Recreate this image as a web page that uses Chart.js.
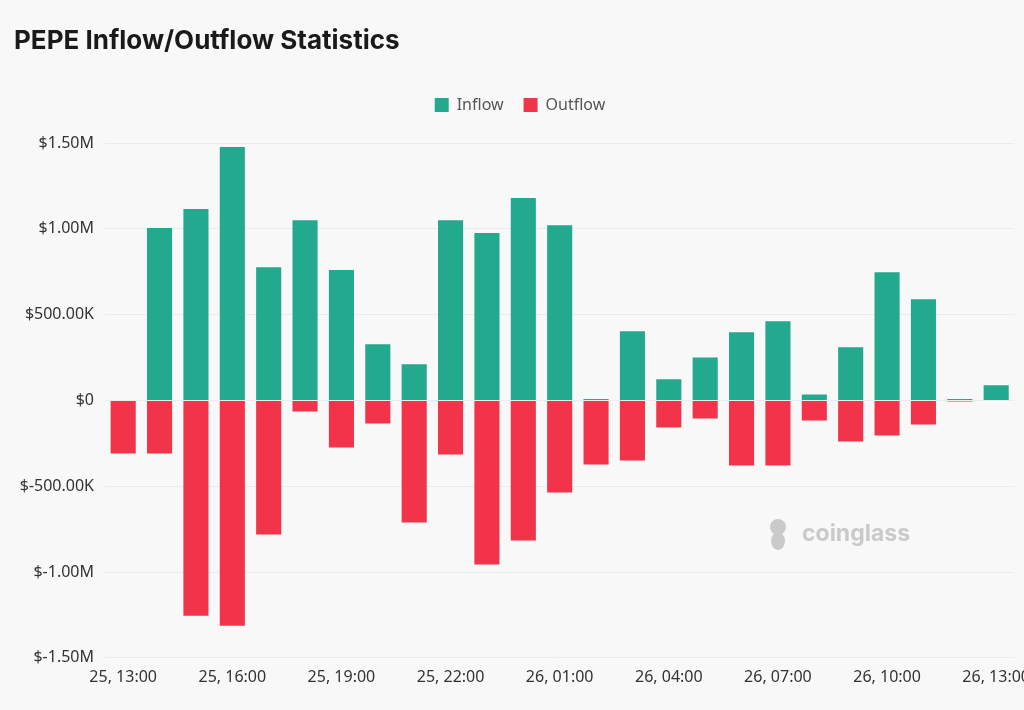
<!DOCTYPE html>
<html>
<head>
<meta charset="utf-8">
<script src="https://cdn.jsdelivr.net/npm/chart.js@4.4.1/dist/chart.umd.min.js"></script>
<style>
  html, body { margin: 0; padding: 0; background: #f8f8f8; width: 1024px; height: 710px; overflow: hidden; }
  #title { position: absolute; left: 14px; top: 24px; font-family: Inter, "Noto Sans", sans-serif; font-weight: 700; font-size: 26px; color: #1a1a1a; }
  #wrap { position: absolute; left: 0; top: 0; width: 1040px; height: 710px; }
</style>
</head>
<body>
<div id="wrap"><canvas id="c"></canvas></div>
<div id="title">PEPE Inflow/Outflow Statistics</div>
<script>
const categories = [
  "25, 13:00","25, 14:00","25, 15:00","25, 16:00","25, 17:00","25, 18:00","25, 19:00","25, 20:00","25, 21:00",
  "25, 22:00","25, 23:00","26, 00:00","26, 01:00","26, 02:00","26, 03:00","26, 04:00","26, 05:00","26, 06:00",
  "26, 07:00","26, 08:00","26, 09:00","26, 10:00","26, 11:00","26, 12:00","26, 13:00"
];
const inflow = [
  0, 1005000, 1115000, 1477000, 776000, 1050000, 760000, 327000, 210000,
  1050000, 975000, 1180000, 1020000, 8000, 403000, 123000, 250000, 397000,
  461000, 35000, 310000, 747000, 590000, 8000, 88000
];
const outflow = [
  -310000, -310000, -1255000, -1313000, -782000, -64000, -274000, -134000, -712000,
  -315000, -957000, -817000, -537000, -374000, -350000, -158000, -105000, -380000,
  -380000, -117000, -240000, -204000, -140000, -6000, 0
];
const yTicks = [-1500000, -1000000, -500000, 0, 500000, 1000000, 1500000];

function fmt(v) {
  if (v === 0) return "$0";
  const a = Math.abs(v), s = v < 0 ? "-" : "";
  if (a >= 1e6) return "$" + s + (a / 1e6).toFixed(2) + "M";
  return "$" + s + (a / 1e3).toFixed(2) + "K";
}

const legendSpacer = {
  id: "legendSpacer",
  beforeInit(chart) {
    const origFit = chart.legend.fit;
    chart.legend.fit = function () {
      origFit.bind(chart.legend)();
      this.height += 20;
    };
  }
};

const watermark = {
  id: "watermark",
  beforeDatasetsDraw(chart) {
    const ctx = chart.ctx;
    ctx.save();
    ctx.fillStyle = "#cacaca";
    ctx.beginPath();
    ctx.arc(778, 527, 8, 0, Math.PI * 2);
    ctx.fill();
    ctx.beginPath();
    ctx.ellipse(778, 541, 7, 9, 0, 0, Math.PI * 2);
    ctx.fill();
    ctx.font = "bold 23px Inter, 'Noto Sans', sans-serif";
    ctx.textBaseline = "middle";
    ctx.fillText("coinglass", 802, 534);
    ctx.restore();
  }
};

const tickFont = { family: "'Noto Sans', Roboto, sans-serif", size: 16 };

new Chart(document.getElementById("c"), {
  type: "bar",
  data: {
    labels: categories,
    datasets: [
      { label: "Inflow", data: inflow, backgroundColor: "#23a98e", borderWidth: 0 },
      { label: "Outflow", data: outflow, backgroundColor: "#f2344a", borderWidth: 0 }
    ]
  },
  options: {
    responsive: true,
    maintainAspectRatio: false,
    animation: false,
    layout: { padding: { top: 77, bottom: 13, left: 0, right: 0 } },
    datasets: { bar: { categoryPercentage: 1, barPercentage: 0.69 } },
    plugins: {
      legend: {
        position: "top",
        labels: {
          font: { family: "'Noto Sans', Roboto, sans-serif", size: 16 },
          color: "#555",
          boxWidth: 14, boxHeight: 14, padding: 20
        }
      },
      tooltip: { enabled: false }
    },
    scales: {
      x: {
        stacked: true,
        grid: { display: false, drawTicks: false },
        border: { display: false },
        ticks: {
          autoSkip: false, maxRotation: 0, minRotation: 0, padding: 10,
          color: "#333",
          font: tickFont,
          callback: function (v, i) { return i % 3 === 0 ? categories[i] : ""; }
        }
      },
      y: {
        stacked: true,
        min: yTicks[0], max: yTicks[yTicks.length - 1],
        afterBuildTicks(scale) { scale.ticks = yTicks.map(v => ({ value: v })); },
        afterFit(scale) { scale.width = 105; },
        grid: { color: "#ececec", drawTicks: false },
        border: { display: false },
        ticks: {
          padding: 11, color: "#333",
          font: tickFont,
          callback: v => fmt(v)
        }
      }
    }
  },
  plugins: [legendSpacer, watermark]
});
</script>
</body>
</html>
